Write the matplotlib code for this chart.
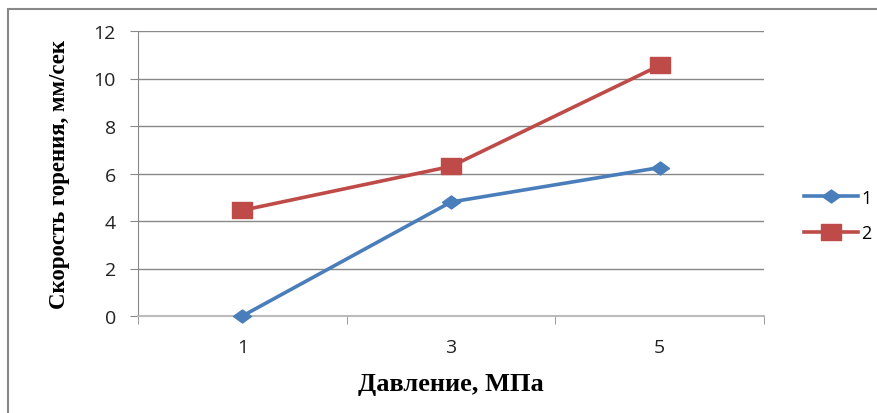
import matplotlib
matplotlib.use("Agg")
import matplotlib.pyplot as plt
from matplotlib.patches import Rectangle
from matplotlib.path import Path

# data
pressure = ["1", "3", "5"]
speed_1 = [0.0, 4.8, 6.25]
speed_2 = [4.45, 6.3, 10.55]
series_names = ["1", "2"]

blue = "#4a7ebb"
red = "#be4b48"
grid_gray = "#888888"

# the source picture is a bit wider than tall, so markers are squashed too
diamond = Path([(-1, 0), (0, 0.72), (1, 0), (0, -0.72), (-1, 0)],
               [Path.MOVETO, Path.LINETO, Path.LINETO, Path.LINETO, Path.CLOSEPOLY])
box = Path([(-1, -0.8), (1, -0.8), (1, 0.8), (-1, 0.8), (-1, -0.8)],
           [Path.MOVETO, Path.LINETO, Path.LINETO, Path.LINETO, Path.CLOSEPOLY])

fig = plt.figure(figsize=(8.78, 4.14), dpi=100)
ax = fig.add_axes([138/878, 1 - 317/414, (764 - 138)/878, (317 - 32)/414])

# outer frame of the chart area (runs off the right/bottom edge)
fig.patches.append(Rectangle((8/878, -0.05), 1.2, 1 - 10/414 + 0.05,
                             transform=fig.transFigure, fill=False,
                             edgecolor="#888888", linewidth=1.5))

xs = [0.5, 1.5, 2.5]
ax.plot(xs, speed_1, color=blue, linewidth=2.6, marker=diamond, markersize=13,
        label=series_names[0], clip_on=False, zorder=3)
ax.plot(xs, speed_2, color=red, linewidth=2.6, marker=box, markersize=14,
        label=series_names[1], clip_on=False, zorder=3)

ax.set_xlim(0, 3)
ax.set_ylim(0, 12)
ax.set_yticks(range(0, 13, 2))
ax.set_xticks(xs)
ax.set_xticklabels(pressure)
ax.set_xticks([0, 1, 2, 3], minor=True)

ax.grid(axis="y", color=grid_gray, linewidth=1)
ax.set_axisbelow(True)
for s in ["top", "right"]:
    ax.spines[s].set_visible(False)
ax.spines["left"].set_color(grid_gray)
ax.spines["bottom"].set_color("#bbbbbb")
ax.spines["bottom"].set_linewidth(1.5)

ax.tick_params(axis="x", which="major", length=0, pad=16,
               labelsize=14, labelcolor="#222222")
ax.tick_params(axis="x", which="minor", length=6, color=grid_gray)
ax.tick_params(axis="y", length=6, color=grid_gray, pad=10,
               labelsize=14, labelcolor="#222222")
for lab in ax.get_xticklabels() + ax.get_yticklabels():
    lab.set_family("Open Sans")

ax.set_ylabel("Скорость горения, мм/сек", family="Liberation Serif",
              fontweight="bold", fontsize=16.5)
ax.yaxis.set_label_coords(-0.109, 0.5)
ax.set_xlabel("Давление, МПа", family="Liberation Serif",
              fontweight="bold", fontsize=19)
ax.xaxis.set_label_coords(0.5, -0.195)

leg = ax.legend(loc="center left", bbox_to_anchor=(1.049, 0.353), frameon=False,
                borderpad=0, handlelength=3.0, labelspacing=0.95,
                handletextpad=0.2, prop={"family": "Open Sans", "size": 13})

fig.savefig("out.png", dpi=100)
